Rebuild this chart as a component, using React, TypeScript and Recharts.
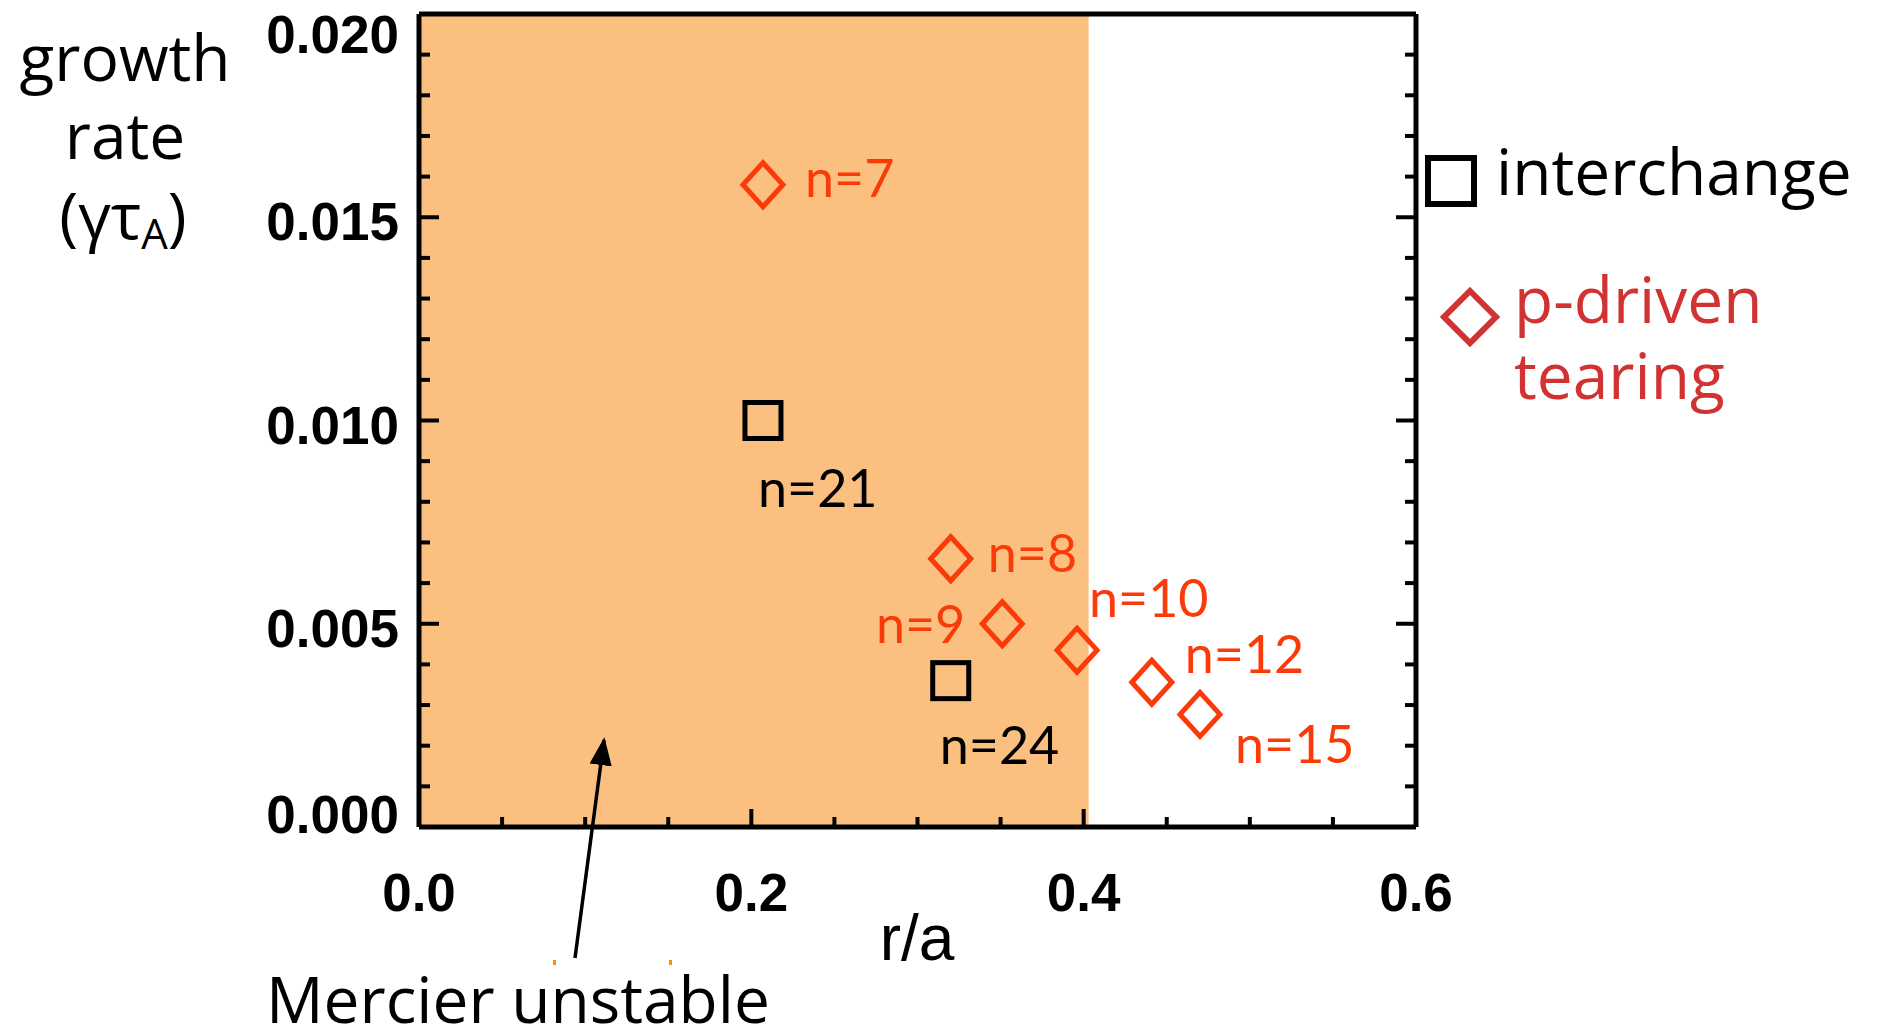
import {
  ScatterChart,
  Scatter,
  XAxis,
  YAxis,
  ReferenceArea,
} from 'recharts';

// interchange modes (squares)
const interchangeR = [0.207, 0.32];
const interchangeGamma = [0.01, 0.0036];
const interchangeN = [21, 24];

// pressure-driven tearing modes (diamonds)
const tearingR = [0.207, 0.32, 0.351, 0.396, 0.441, 0.47];
const tearingGamma = [0.0158, 0.0066, 0.005, 0.00435, 0.00356, 0.00277];
const tearingN = [7, 8, 9, 10, 12, 15];

// Mercier-unstable region extends out to this radius
const mercierEdge = 0.403;

const xTicks = [0, 0.05, 0.1, 0.15, 0.2, 0.25, 0.3, 0.35, 0.4, 0.45, 0.5, 0.55, 0.6];
const xTickLabels = ['0.0', '0.2', '0.4', '0.6'];
const yTicks = [
  0, 0.001, 0.002, 0.003, 0.004, 0.005, 0.006, 0.007, 0.008, 0.009, 0.01,
  0.011, 0.012, 0.013, 0.014, 0.015, 0.016, 0.017, 0.018, 0.019, 0.02,
];
const yTickLabels = ['0.000', '0.005', '0.010', '0.015', '0.020'];

// where each "n=" label sits relative to its marker
const labelOffsets: Record<number, { dx: number; dy: number; anchor: 'start' | 'end' }> = {
  7: { dx: 42, dy: -7, anchor: 'start' },
  8: { dx: 37, dy: -6, anchor: 'start' },
  9: { dx: -37, dy: 0, anchor: 'end' },
  10: { dx: 12, dy: -52, anchor: 'start' },
  12: { dx: 33, dy: -28, anchor: 'start' },
  15: { dx: 35, dy: 30, anchor: 'start' },
  21: { dx: -5, dy: 67, anchor: 'start' },
  24: { dx: -11, dy: 64, anchor: 'start' },
};

const interchangeData = interchangeR.map((r, i) => ({ r, gamma: interchangeGamma[i], n: interchangeN[i] }));
const tearingData = tearingR.map((r, i) => ({ r, gamma: tearingGamma[i], n: tearingN[i] }));

const TICK_FONT = '"Liberation Sans", Arial, sans-serif';
const LABEL_FONT = 'Lato, "Open Sans", sans-serif';
const TEXT_FONT = '"Open Sans", "Noto Sans", sans-serif';
const MARK_RED = '#fb3a0a';
const LEGEND_RED = '#d13232';

const W = 1877;
const H = 1032;

const isMajor = (v: number, labels: string[]) => labels.some((l) => Math.abs(parseFloat(l) - v) < 1e-9);

function NLabel({ x, y, n, color }: { x: number; y: number; n: number; color: string }) {
  const o = labelOffsets[n];
  return (
    <text
      x={x + o.dx}
      y={y + o.dy + 19}
      textAnchor={o.anchor}
      fontFamily={LABEL_FONT}
      fontSize={52}
      fill={color}
    >
      {`n=${n}`}
    </text>
  );
}

const squareShape = (props: any) => {
  const { cx, cy, payload } = props;
  return (
    <g>
      <rect x={cx - 18} y={cy - 18} width={36} height={36} fill="none" stroke="#000" strokeWidth={5} />
      <NLabel x={cx} y={cy} n={payload.n} color="#000" />
    </g>
  );
};

const diamondShape = (props: any) => {
  const { cx, cy, payload } = props;
  const rx = 20;
  const ry = 22;
  return (
    <g>
      <polygon
        points={`${cx},${cy - ry} ${cx + rx},${cy} ${cx},${cy + ry} ${cx - rx},${cy}`}
        fill="none"
        stroke={MARK_RED}
        strokeWidth={5}
      />
      <NLabel x={cx} y={cy} n={payload.n} color={MARK_RED} />
    </g>
  );
};

const leftTick = (props: any) => {
  const { x, y, payload, index } = props;
  const v = payload.value as number;
  const major = isMajor(v, yTickLabels);
  // end labels are nudged inward so they stay beside the frame
  const shift = v >= 0.02 ? 20 : v <= 0 ? -13 : 4;
  return (
    <g key={index}>
      <line x1={x} x2={x + (major ? 20 : 11)} y1={y} y2={y} stroke="#000" strokeWidth={4} />
      {major && (
        <text
          x={x - 20}
          y={y + shift + 19}
          textAnchor="end"
          fontFamily={TICK_FONT}
          fontWeight="bold"
          fontSize={53}
          fill="#000"
        >
          {v.toFixed(3)}
        </text>
      )}
    </g>
  );
};

const rightTick = (props: any) => {
  const { x, y, payload } = props;
  const major = isMajor(payload.value, yTickLabels);
  return <line x1={x} x2={x - (major ? 20 : 11)} y1={y} y2={y} stroke="#000" strokeWidth={4} />;
};

const bottomTick = (props: any) => {
  const { x, y, payload } = props;
  const v = payload.value as number;
  const major = isMajor(v, xTickLabels);
  return (
    <g>
      <line x1={x} x2={x} y1={y} y2={y - (major ? 18 : 10)} stroke="#000" strokeWidth={4} />
      {major && (
        <text
          x={x}
          y={y + 84}
          textAnchor="middle"
          fontFamily={TICK_FONT}
          fontWeight="bold"
          fontSize={53}
          fill="#000"
        >
          {v.toFixed(1)}
        </text>
      )}
    </g>
  );
};

const topTick = (props: any) => {
  const { x, y, payload } = props;
  const major = isMajor(payload.value, xTickLabels);
  return <line x1={x} x2={x} y1={y} y2={y + (major ? 18 : 10)} stroke="#000" strokeWidth={4} />;
};

export default function App() {
  return (
    <div style={{ position: 'absolute', left: 0, top: 0, width: W, height: H, background: '#fff' }}>
      <ScatterChart width={W} height={H} margin={{ top: 13, right: 460, bottom: 105, left: 219 }}>
        <ReferenceArea x1={0} x2={mercierEdge} y1={0} y2={0.02} fill="#fbc080" fillOpacity={1} stroke="none" />
        <XAxis
          dataKey="r"
          type="number"
          domain={[0, 0.6]}
          ticks={xTicks}
          interval={0}
          height={100}
          tickSize={0}
          tickMargin={0}
          tickLine={false}
          tick={bottomTick}
          axisLine={{ stroke: '#000', strokeWidth: 5 }}
          allowDataOverflow
        />
        <XAxis
          xAxisId="top"
          orientation="top"
          type="number"
          domain={[0, 0.6]}
          ticks={xTicks}
          interval={0}
          height={1}
          tickSize={0}
          tickMargin={0}
          tickLine={false}
          tick={topTick}
          axisLine={{ stroke: '#000', strokeWidth: 5 }}
          allowDataOverflow
        />
        <YAxis
          dataKey="gamma"
          type="number"
          domain={[0, 0.02]}
          ticks={yTicks}
          interval={0}
          width={200}
          tickSize={0}
          tickMargin={0}
          tickLine={false}
          tick={leftTick}
          axisLine={{ stroke: '#000', strokeWidth: 5 }}
          allowDataOverflow
        />
        <YAxis
          yAxisId="right"
          orientation="right"
          type="number"
          domain={[0, 0.02]}
          ticks={yTicks}
          interval={0}
          width={1}
          tickSize={0}
          tickMargin={0}
          tickLine={false}
          tick={rightTick}
          axisLine={{ stroke: '#000', strokeWidth: 5 }}
          allowDataOverflow
        />
        <Scatter name="interchange" data={interchangeData} shape={squareShape} isAnimationActive={false} />
        <Scatter name="p-driven tearing" data={tearingData} shape={diamondShape} isAnimationActive={false} />
      </ScatterChart>

      {/* axis titles, legend and the Mercier annotation */}
      <svg
        width={W}
        height={H}
        style={{ position: 'absolute', left: 0, top: 0, pointerEvents: 'none' }}
      >
        <defs>
          <marker id="arrowHead" viewBox="0 0 10 10" refX="9" refY="5" markerWidth="8" markerHeight="8" orient="auto">
            <path d="M0,1 L10,5 L0,9 z" fill="#000" />
          </marker>
        </defs>
        <g fontFamily={TEXT_FONT} fontSize={64} fill="#000" textAnchor="middle">
          <text x={125} y={81}>growth</text>
          <text x={125} y={159}>rate</text>
          <text x={123} y={239}>
            (γτ<tspan fontSize={42} dy={10}>A</tspan>
            <tspan dy={-10}>)</tspan>
          </text>
        </g>
        <text x={917} y={960} textAnchor="middle" fontFamily={TICK_FONT} fontSize={64} fill="#000">
          r/a
        </text>

        <rect x={1428} y={158} width={46} height={46} fill="none" stroke="#000" strokeWidth={6} />
        <text x={1496} y={195} fontFamily={TEXT_FONT} fontSize={64} fill="#000">interchange</text>
        <polygon points="1470,291 1496,317 1470,343 1444,317" fill="none" stroke={LEGEND_RED} strokeWidth={6} />
        <text x={1514} y={323} fontFamily={TEXT_FONT} fontSize={64} fill={LEGEND_RED}>p-driven</text>
        <text x={1514} y={399} fontFamily={TEXT_FONT} fontSize={64} fill={LEGEND_RED}>tearing</text>

        <line x1={575} y1={958} x2={604} y2={740} stroke="#000" strokeWidth={3.5} markerEnd="url(#arrowHead)" />
        <rect x={553} y={960} width={3} height={5} fill="#fb8c1e" />
        <rect x={669} y={960} width={3} height={5} fill="#fb8c1e" />
        <text x={266} y={1023} fontFamily={TEXT_FONT} fontSize={64} fill="#000">Mercier unstable</text>
      </svg>
    </div>
  );
}
